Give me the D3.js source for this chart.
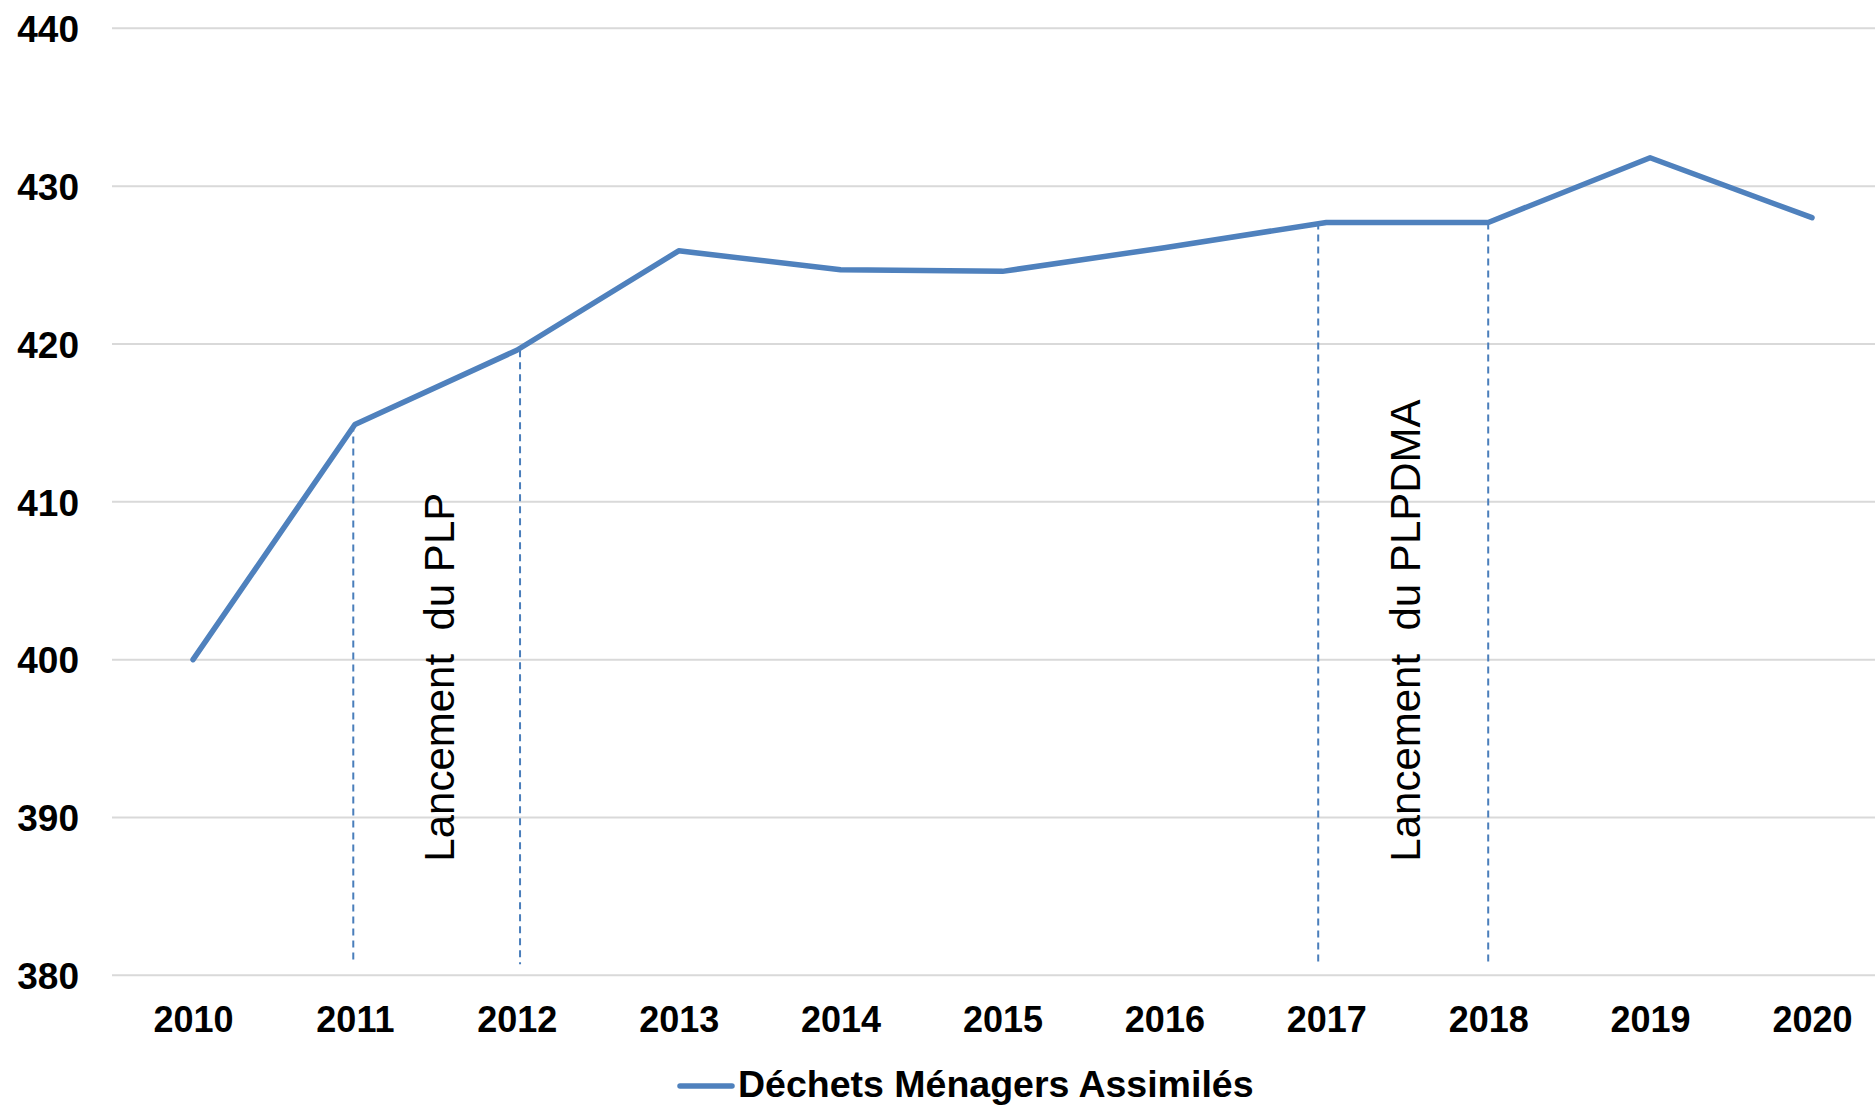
<!DOCTYPE html>
<html>
<head>
<meta charset="utf-8">
<script src="https://cdn.jsdelivr.net/npm/d3@7"></script>
<style>
  html, body { margin: 0; padding: 0; background: #fff; }
  svg { display: block; font-family: "Liberation Sans", Arial, sans-serif; }
</style>
</head>
<body>
<svg id="chart" width="1875" height="1105"></svg>
<script>
// ---- data ----
const years = [2010, 2011, 2012, 2013, 2014, 2015, 2016, 2017, 2018, 2019, 2020];
const dma = [400.0, 414.9, 419.6, 425.9, 424.7, 424.6, 426.1, 427.7, 427.7, 431.8, 428.0];
const yTicks = [380, 390, 400, 410, 420, 430, 440];
const seriesName = "Déchets Ménagers Assimilés";
// milestone markers (year position, value of the line at that year)
const markerYears = [2010.99, 2012.02, 2016.95, 2018];
const markerTops = [414.9, 419.6, 427.7, 427.7];
const markerBottom = 380.7;
const noteLabels = ["Lancement  du PLP", "Lancement  du PLPDMA"];
const noteYears = [2011.61, 2017.58];
const noteStart = 387.2;

// ---- layout ----
const svg = d3.select("#chart");
const blue = "#4f81bd";
const x = d3.scaleLinear().domain([2010, 2020]).range([193, 1812]);
const y = d3.scaleLinear().domain([380, 440]).range([975.3, 28.3]);
const gridLeft = 112, gridRight = 1875;

// gridlines
svg.append("g").selectAll("line").data(yTicks).join("line")
  .attr("x1", gridLeft).attr("x2", gridRight)
  .attr("y1", d => y(d)).attr("y2", d => y(d))
  .attr("stroke", "#d9d9d9").attr("stroke-width", 2);

// y axis labels
const yAxis = d3.axisLeft(y).tickValues(yTicks).tickSize(0).tickPadding(0);
const gy = svg.append("g").attr("transform", "translate(79,0)").call(yAxis);
gy.select(".domain").remove();
gy.selectAll("text")
  .attr("font-family", "Liberation Sans, Arial, sans-serif")
  .attr("font-size", 37).attr("font-weight", "bold").attr("fill", "#000")
  .attr("dy", "0.36em");

// x axis labels
const xAxis = d3.axisBottom(x).tickValues(years).tickFormat(d3.format("d")).tickSize(0).tickPadding(0);
const gx = svg.append("g").attr("transform", "translate(0,1032)").call(xAxis);
gx.select(".domain").remove();
gx.selectAll("text")
  .attr("font-family", "Liberation Sans, Arial, sans-serif")
  .attr("font-size", 36).attr("font-weight", "bold").attr("fill", "#000")
  .attr("dy", 0).attr("y", 0);

// dashed milestone lines
svg.append("g").selectAll("line").data(markerYears).join("line")
  .attr("x1", d => x(d)).attr("x2", d => x(d))
  .attr("y1", (d, i) => y(markerTops[i])).attr("y2", y(markerBottom))
  .attr("stroke", "#4a7ebb").attr("stroke-width", 2)
  .attr("stroke-dasharray", "7,5");

// rotated notes
svg.append("g").selectAll("text").data(noteLabels).join("text")
  .attr("transform", (d, i) => `translate(${x(noteYears[i])},${y(noteStart)}) rotate(-90)`)
  .attr("text-anchor", "start")
  .attr("font-size", 42).attr("fill", "#000")
  .style("white-space", "pre")
  .text(d => d);

// series line
const line = d3.line().x((d, i) => x(years[i])).y(d => y(d));
svg.append("path").datum(dma)
  .attr("d", line)
  .attr("fill", "none").attr("stroke", blue).attr("stroke-width", 5.5)
  .attr("stroke-linejoin", "round").attr("stroke-linecap", "round");

// legend
const lg = svg.append("g");
lg.append("line").attr("x1", 680).attr("x2", 732).attr("y1", 1086).attr("y2", 1086)
  .attr("stroke", blue).attr("stroke-width", 5.5).attr("stroke-linecap", "round");
lg.append("text").attr("x", 738).attr("y", 1097)
  .attr("font-size", 37.5).attr("font-weight", "bold").attr("fill", "#000")
  .text(seriesName);
</script>
</body>
</html>
